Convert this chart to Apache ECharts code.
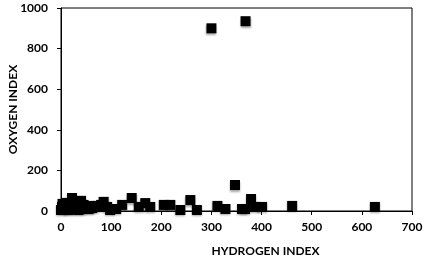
<!DOCTYPE html>
<html>
<head>
<meta charset="utf-8">
<script src="https://cdn.jsdelivr.net/npm/echarts@6/dist/echarts.min.js"></script>
<style>
  html, body { margin: 0; padding: 0; background: #fff; }
  #chart { width: 425px; height: 260px; }
</style>
</head>
<body>
<div id="chart"></div>
<script>
// hydrogen index (x) vs oxygen index (y)
const hydrogenIndex = [
  0, 2, 3, 5, 8, 10, 12, 15, 18, 20, 22, 25, 28, 30, 33, 35, 38, 40, 42, 45,
  50, 55, 58, 62, 65, 72, 80, 85, 92, 98, 110, 122, 141, 155, 168, 178,
  205, 218, 238, 258, 271, 300, 312, 328, 347, 361, 367, 368, 379, 387, 401,
  461, 626
]
const oxygenIndex = [
  5, 20, 35, 10, 30, 15, 40, 5, 25, 10, 64, 45, 30, 15, 45, 5, 25, 50, 10, 30,
  20, 10, 25, 15, 20, 25, 30, 45, 20, 5, 10, 30, 64, 20, 39, 20,
  30, 30, 5, 54, 5, 900, 25, 10, 128, 10, 10, 935, 59, 20, 20,
  25, 20
]
const xTicks = { min: 0, max: 700, interval: 100 }
const yTicks = { min: 0, max: 1000, interval: 200 }

const points = hydrogenIndex.map((h, i) => [h, oxygenIndex[i]])

const chart = echarts.init(document.getElementById('chart'))

const labelFont = {
  fontFamily: 'Lato',
  fontWeight: 'bold',
  fontSize: 12,
  color: '#000'
}

chart.setOption({
  animation: false,
  grid: {
    left: 61,
    right: 13,
    top: 8,
    bottom: 49,
    outerBoundsMode: 'none',
    containLabel: false,
    show: true,
    borderColor: '#000',
    borderWidth: 1
  },
  xAxis: {
    type: 'value',
    min: xTicks.min,
    max: xTicks.max,
    interval: xTicks.interval,
    name: 'HYDROGEN INDEX',
    nameLocation: 'middle',
    nameGap: 34,
    nameTextStyle: Object.assign({}, labelFont, { padding: [0, 0, 0, 58] }),
    axisLine: { lineStyle: { color: '#000', width: 1 } },
    axisTick: { show: true, length: 4, lineStyle: { color: '#000' } },
    axisLabel: Object.assign({ margin: 10 }, labelFont),
    splitLine: { show: false }
  },
  yAxis: {
    type: 'value',
    min: yTicks.min,
    max: yTicks.max,
    interval: yTicks.interval,
    name: 'OXYGEN INDEX',
    nameLocation: 'middle',
    nameMoveOverlap: false,
    nameGap: 42,
    nameRotate: 90,
    nameTextStyle: labelFont,
    axisLine: { show: true, lineStyle: { color: '#000', width: 1 } },
    axisTick: { show: true, length: 4, lineStyle: { color: '#000' } },
    axisLabel: Object.assign({ margin: 13, formatter: v => String(v) }, labelFont),
    splitLine: { show: false }
  },
  series: [
    {
      type: 'scatter',
      data: points,
      symbol: 'rect',
      symbolSize: 10,
      itemStyle: {
        color: '#000',
        opacity: 1,
        shadowColor: 'rgba(0,0,0,0.35)',
        shadowBlur: 2,
        shadowOffsetY: 1.5
      }
    }
  ]
})
</script>
</body>
</html>
